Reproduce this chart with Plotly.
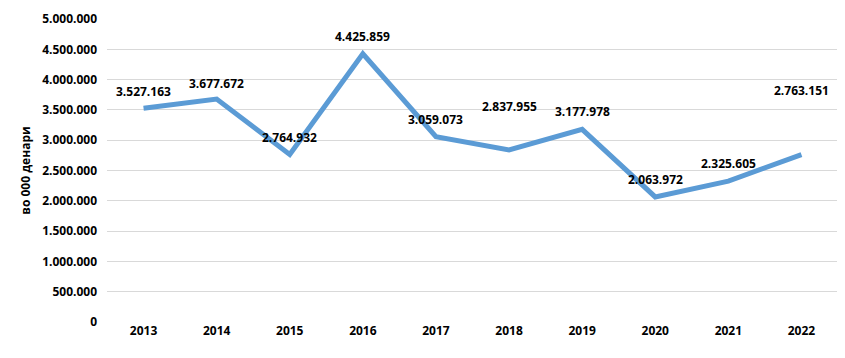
import plotly.graph_objects as go

years = ["2013", "2014", "2015", "2016", "2017", "2018", "2019", "2020", "2021", "2022"]
values = [3527163, 3677672, 2764932, 4425859, 3059073, 2837955, 3177978, 2063972, 2325605, 2763151]
label_texts = ["3.527.163", "3.677.672", "2.764.932", "4.425.859", "3.059.073",
               "2.837.955", "3.177.978", "2.063.972", "2.325.605", "2.763.151"]
y_title = "во 000 денари"

# pixel offsets of the data labels above their points (style only)
label_shift = [17, 16, 17, 17, 17, 44, 18, 17, 18, 64]

FONT = "Open Sans"
idx = list(range(len(years)))

fig = go.Figure()
fig.add_trace(go.Scatter(
    x=idx, y=values, mode="lines",
    line=dict(color="#5B9BD5", width=5),
    hoverinfo="skip", showlegend=False,
))

for x, y, t, s in zip(idx, values, label_texts, label_shift):
    fig.add_annotation(x=x, y=y, xref="x", yref="y", text=t, showarrow=False, yshift=s,
                       font=dict(family=FONT, size=12, color="#000000", weight="bold"))

fig.update_layout(
    width=845, height=358,
    margin=dict(l=99, r=15, t=11, b=44),
    paper_bgcolor="white", plot_bgcolor="white",
    separators=",.",
    font=dict(family=FONT, size=12, color="#000000"),
    showlegend=False,
)
fig.update_xaxes(
    automargin=False,
    range=[-0.5, len(years) - 0.5], tickmode="array", tickvals=idx, ticktext=years,
    showgrid=False, showline=False, zeroline=False,
    ticks="", tickfont=dict(family=FONT, size=12, weight="bold", color="#000000"),
)
fig.update_yaxes(
    automargin=False,
    range=[0, 5000000], dtick=500000, tickformat=",d",
    showgrid=True, gridcolor="#D9D9D9", gridwidth=1,
    zeroline=False, showline=False, ticks="",
    ticklabelstandoff=9,
    tickfont=dict(family=FONT, size=12, weight="bold", color="#000000"),
    title=dict(text=y_title, font=dict(family=FONT, size=12, weight="bold", color="#000000"),
               standoff=8),
)

fig.write_html("out.html")
